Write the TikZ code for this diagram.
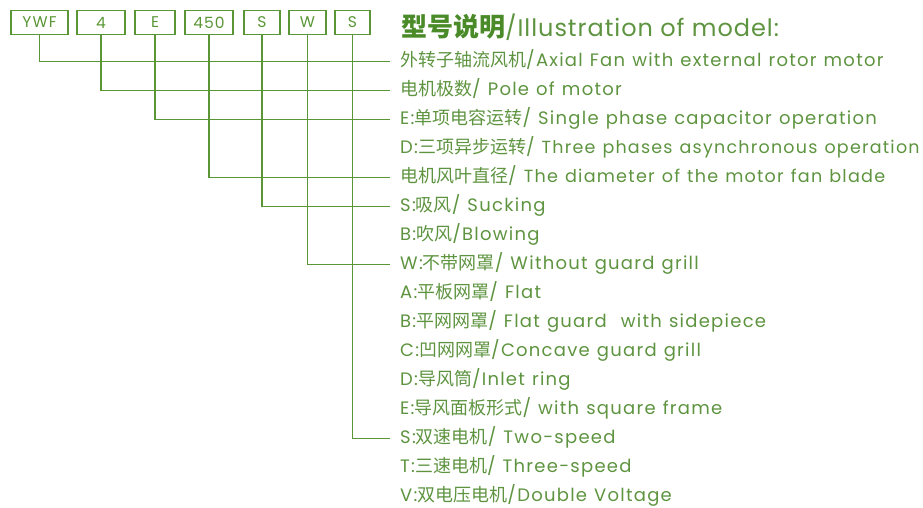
\documentclass[tikz,border=0pt]{standalone}
\usepackage{fontspec}
\setmainfont{Poppins}[LetterSpace=7]
\newfontfamily\titlefont{Poppins}[LetterSpace=4]
\newfontfamily\cjk{Noto Sans CJK SC}
\definecolor{lg}{RGB}{90,150,54}
\definecolor{tg}{RGB}{94,148,64}
\definecolor{hg}{RGB}{74,138,40}
\newcommand{\zh}[1]{{\cjk\fontsize{18}{18}\selectfont #1}}
\newcommand{\lat}[2]{{\fontsize{#1}{20}\selectfont #2}}
\newcommand{\rowfont}{\fontsize{18}{20}\selectfont\spaceskip\dimexpr\fontdimen2\font+1pt\relax}
\begin{document}
\begin{tikzpicture}[x=1pt,y=-1pt,
  codebox/.style={draw=lg,line width=1.9pt,minimum height=24pt,inner sep=0pt,text=lg,font=\fontsize{15.5}{18}\selectfont},
  row/.style={anchor=west,inner sep=0pt,text=tg,text height=11pt,text depth=3pt,font=\rowfont},
  link/.style={draw=lg,line width=1.9pt}]
\useasboundingbox (0,0) rectangle (923,508);
% code boxes
\node[codebox,minimum width=57pt] (b1) at (39.5,22.5) {YWF};
\node[codebox,minimum width=48pt] (b2) at (101,22.5) {4};
\node[codebox,minimum width=40pt] (b3) at (155,22.5) {E};
\node[codebox,minimum width=48pt] (b4) at (209,22.5) {450};
\node[codebox,minimum width=36pt] (b5) at (262,22.5) {S};
\node[codebox,minimum width=37pt] (b6) at (307.5,22.5) {W};
\node[codebox,minimum width=35pt] (b7) at (352.5,22.5) {S};
% title
\node[anchor=west,inner sep=0pt] (title) at (401,27) {{\cjk\bfseries\fontsize{26}{28}\selectfont\color{hg}型号说明}{\color{tg}\titlefont\fontsize{24}{28}\selectfont/Illustration of model:}};
% rows
\node[row] (r1) at (400,62.5) {\zh{外转子轴流风机}/Axial Fan with external rotor motor};
\node[row] (r2) at (400,91.5) {\zh{电机极数}/ Pole of motor};
\node[row] (r3) at (400,120.5) {E:\zh{单项电容运转}/ Single phase capacitor operation};
\node[row] (r4) at (400,149.5) {D:\zh{三项异步运转}/ \lat{17.5}{Three phases asynchronous operation}};
\node[row] (r5) at (400,178.5) {\zh{电机风叶直径}/ \lat{17.6}{The diameter of the motor fan blade}};
\node[row] (r6) at (400,207.5) {S:\zh{吸风}/ Sucking};
\node[row] (r7) at (400,236.5) {B:\zh{吹风}/Blowing};
\node[row] (r8) at (400,265.5) {W:\zh{不带网罩}/ Without guard grill};
\node[row] (r9) at (400,294.5) {A:\zh{平板网罩}/ Flat};
\node[row] (r10) at (400,323.5) {B:\zh{平网网罩}/ Flat guard\ \ with sidepiece};
\node[row] (r11) at (400,352.5) {C:\zh{凹网网罩}/Concave guard grill};
\node[row] (r12) at (400,381.5) {D:\zh{导风筒}/Inlet ring};
\node[row] (r13) at (400,410.5) {E:\zh{导风面板形式}/ with square frame};
\node[row] (r14) at (400,439.5) {S:\zh{双速电机}/ Two-speed};
\node[row] (r15) at (400,468.5) {T:\zh{三速电机}/ Three-speed};
\node[row] (r16) at (400,497.5) {V:\zh{双电压电机}/Double Voltage};
% connectors
\foreach \b/\r in {1/1,2/2,3/3,4/5,5/6,6/8,7/14}
 {\coordinate (e\b) at ([xshift=-10pt,yshift=1pt]r\r.west);
  \draw[link] (b\b.south) |- (e\b);}
\end{tikzpicture}
\end{document}
